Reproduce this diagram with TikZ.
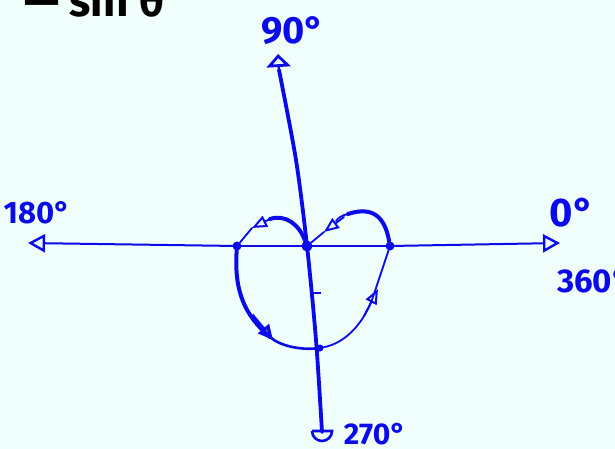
\documentclass[tikz,border=0pt]{standalone}
\usepackage{fontspec}
\setmainfont{Fira Sans}
\usetikzlibrary{arrows.meta}
\definecolor{bgc}{RGB}{240,255,252}
\definecolor{pen}{RGB}{10,10,235}
\tikzset{
  axis/.style={pen, line width=2pt},
  thickpen/.style={pen, line width=4pt, line cap=round},
  thinpen/.style={pen, line width=1.8pt, line cap=round},
  opentip/.style={-{Triangle[open, length=17pt, width=18pt, line width=2.4pt]}},
  smalltip/.style={-{Triangle[open, length=15pt, width=12pt, line width=2pt]}},
  dotc/.style={circle, fill=pen, inner sep=0pt, minimum size=9pt},
  lbl/.style={pen, inner sep=0pt, font=\bfseries},
}
\begin{document}
\begin{tikzpicture}[x=1pt,y=-1pt]
\useasboundingbox (0,0) rectangle (615,449);
\clip (0,0) rectangle (615,449);
\fill[bgc] (0,0) rectangle (615,449);
% top text (cut off, as in the reference)
\node[anchor=base west, inner sep=0pt, font=\bfseries\fontsize{44}{44}\selectfont] (title) at (24,17) {— sin θ};
% coordinates
\coordinate (lend) at (28,243);
\coordinate (rend) at (560,243);
\coordinate (tend) at (278,54);
\coordinate (bend) at (322,432);
\node[dotc] (L) at (237,246) {};
\node[dotc, minimum size=11pt] (C) at (307,246) {};
\node[dotc] (R) at (390,246) {};
\node[dotc, minimum size=7pt] (B) at (320,348) {};
% horizontal axis
\draw[axis, opentip] (R.center) -- (rend);
\draw[axis] (C.center) -- (R.center);
\draw[axis] (L.center) -- (C.center);
\draw[axis, opentip] (L.center) -- (lend);
% vertical axis
\draw[pen, line width=3.8pt, line cap=round] plot[smooth] coordinates {(279,70) (296,160) (C) (316,340) (bend)};
\draw[pen, line width=2.4pt, -{Triangle[open, length=13pt, width=24pt, line width=2.8pt]}] (279,72) -- (tend);
% bottom cup
\draw[pen, line width=2.6pt] (312,431) -- (332,431) arc[start angle=0, end angle=-180, radius=10pt];
% tick
\draw[pen, line width=1.8pt] (313,293) -- (321,293);
% upper-left loop C -> L
\coordinate (ul) at (270,219);
\draw[thickpen] (C) .. controls (299,224) and (285,214) .. (ul);
\draw[thinpen, smalltip] (ul) -- (252,228);
\draw[thinpen] (252,228) -- (L);
% upper-right loop R -> C
\coordinate (ur) at (348,214);
\draw[thickpen] (R) .. controls (386,224) and (378,204) .. (ur);
\draw[thinpen] (ur) .. controls (342,215) and (338,218) .. (336,221);
\draw[thinpen, smalltip] (344,217) -- (324,232);
\draw[thinpen] (324,232) -- (C);
% lower-left L -> B
\coordinate (ll) at (270,337);
\draw[thickpen] (L) .. controls (234,290) and (244,315) .. (ll);
\draw[pen, line width=3.4pt, -{Triangle[open, length=15pt, width=14pt, line width=3.4pt]}] (252,315) -- (273,340);
\draw[thinpen, line width=2.6pt] (ll) .. controls (280,346) and (300,350) .. (B);
% lower-right B -> R
\coordinate (lr) at (372,300);
\draw[thinpen] (B) .. controls (345,343) and (362,325) .. (lr);
\draw[thinpen, smalltip] (364,316) -- (378,289);
\draw[thinpen] (lr) -- (R);
% labels
\node[lbl, font=\bfseries\fontsize{38}{38}\selectfont] (l90) at (293,31) {90°};
\node[lbl, font=\bfseries\fontsize{31}{31}\selectfont] (l180) at (37,213) {180°};
\node[lbl, font=\bfseries\fontsize{40}{40}\selectfont] (l0) at (572,213) {0°};
\node[lbl, font=\bfseries\fontsize{33}{33}\selectfont, anchor=west] (l360) at (557,281) {360°};
\node[lbl, font=\bfseries\fontsize{30}{30}\selectfont] (l270) at (375,434) {270°};
\end{tikzpicture}
\end{document}
